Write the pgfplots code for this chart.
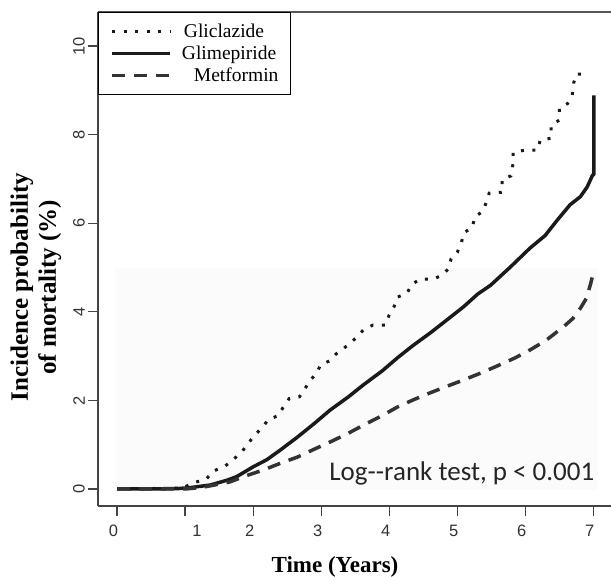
\documentclass[border=0pt]{standalone}
\usepackage{fontspec}
\setmainfont{Liberation Serif}
\newfontfamily\arialfont{Liberation Sans}
\newfontfamily\calfont{Carlito}
\usepackage{pgfplots}
\usepackage{pgfplotstable}
\pgfplotsset{compat=1.18}
\definecolor{axisgray}{HTML}{444444}
\definecolor{curveblack}{HTML}{1A1A1A}
\definecolor{dashgray}{HTML}{333333}

% cumulative incidence (%) by year
\pgfplotstableread{
t y
0 0
0.96 0.02
1.12 0.14
1.31 0.22
1.41 0.40
1.59 0.52
1.72 0.68
1.84 0.85
1.93 1.04
2.03 1.22
2.15 1.42
2.22 1.56
2.37 1.66
2.44 1.84
2.53 2.04
2.68 2.08
2.76 2.26
2.84 2.46
2.93 2.60
2.99 2.80
3.12 2.89
3.22 3.05
3.32 3.16
3.43 3.30
3.54 3.45
3.63 3.61
3.76 3.70
3.94 3.70
4.00 3.93
4.07 4.11
4.12 4.33
4.26 4.42
4.34 4.63
4.46 4.74
4.65 4.74
4.78 4.83
4.87 4.97
4.91 5.20
5.00 5.34
5.06 5.56
5.10 5.79
5.22 5.90
5.26 6.15
5.37 6.26
5.43 6.48
5.47 6.68
5.66 6.70
5.66 6.99
5.79 7.07
5.82 7.34
5.82 7.60
5.99 7.65
6.18 7.65
6.22 7.88
6.38 7.92
6.38 8.21
6.50 8.33
6.50 8.60
6.62 8.70
6.69 8.89
6.71 9.16
6.75 9.37
6.94 9.37
}\gliclazide

\pgfplotstableread{
t y
0 0
0.50 0
0.90 0.01
1.07 0.03
1.37 0.09
1.62 0.20
1.76 0.28
2.00 0.50
2.20 0.66
2.40 0.88
2.65 1.17
2.90 1.48
3.13 1.78
3.40 2.08
3.62 2.35
3.90 2.67
4.12 2.96
4.35 3.24
4.60 3.52
4.85 3.82
5.09 4.11
5.30 4.40
5.49 4.60
5.78 5.01
6.07 5.44
6.29 5.72
6.47 6.07
6.66 6.42
6.81 6.60
6.91 6.82
6.99 7.09
7.01 7.10
7.01 8.89
}\glimepiride

\pgfplotstableread{
t y
0 0
1.00 0
1.22 0.03
1.40 0.08
1.66 0.16
1.90 0.30
2.15 0.43
2.40 0.58
2.65 0.72
2.90 0.90
3.13 1.06
3.40 1.26
3.62 1.44
3.90 1.66
4.12 1.85
4.35 2.01
4.60 2.17
4.85 2.32
5.09 2.46
5.35 2.62
5.59 2.78
5.85 2.96
6.07 3.14
6.30 3.35
6.56 3.66
6.70 3.85
6.81 4.08
6.90 4.31
6.96 4.63
7.00 4.88
}\metformin

\begin{document}
\begin{tikzpicture}
\begin{axis}[
    scale only axis, width=513bp, height=494bp,
    xmin=-0.28, xmax=7.26, ymin=-0.384, ymax=10.77,
    axis x line*=bottom, axis y line*=left,
    axis line style={axisgray, line width=1.2bp, -},
    xtick={0,...,7}, ytick={0,2,...,10},
    xticklabels={0,{\hspace*{31bp}1},2,3,4,5,6,7},
    yticklabels={0,2,4,6,8,10},
    tick align=outside, major tick length=10bp,
    tick style={axisgray, line width=1.2bp},
    xticklabel style={font=\arialfont\fontsize{16.5bp}{16.5bp}\selectfont, text=black!80, inner sep=0pt, anchor=north, yshift=-9bp, xshift=-3.5bp},
    yticklabel style={font=\arialfont\fontsize{16.5bp}{16.5bp}\selectfont, text=black!80, inner sep=0pt, xshift=-3bp, rotate=90, anchor=south},
    xlabel={Time (Years)},
    xlabel style={at={(axis description cs:0.462,-0.1356)}, anchor=base, font=\bfseries\fontsize{23bp}{23bp}\selectfont},
    ylabel={Incidence probability\\of mortality (\%)},
    ylabel style={at={(axis description cs:-0.1209,0.443)}, anchor=center, align=center, font=\bfseries\fontsize{25bp}{28bp}\selectfont},
    clip=false,
    legend style={at={(rel axis cs:0,1)}, anchor=north west, draw=black, line width=1bp, fill=white,
        inner xsep=12bp, inner ysep=9bp, row sep=2bp, column sep=10bp,
        font=\fontsize{19.5bp}{22bp}\selectfont,
        nodes={inner sep=0pt, text height=16.5bp, text depth=3.5bp}},
    legend cell align=left,
    legend image code/.code={\path[draw=none, fill=none] (0bp,-10bp) -- (0bp,10bp); \draw[#1] (0bp,0bp) -- (58bp,0bp);},
]
\fill[black!1.5] (axis cs:-0.03,-0.02) rectangle (axis cs:7.07,4.99);
\addplot[curveblack, line width=3bp, dash pattern=on 3bp off 8.5bp, line cap=butt] table[x=t, y=y] {\gliclazide};
\addlegendentry{\hspace*{2bp}Gliclazide}
\addplot[curveblack, line width=3.5bp, line join=round] table[x=t, y=y] {\glimepiride};
\addlegendentry{Glimepiride}
\addplot[dashgray, line width=3.5bp, dash pattern=on 13bp off 9bp] table[x=t, y=y] {\metformin};
\addlegendentry{\hspace*{12bp}Metformin}
\draw[axisgray!90, line width=1.2bp] (rel axis cs:0,1) -- (rel axis cs:1,1);
\node[anchor=base west, inner sep=0pt, font=\calfont\fontsize{27bp}{27bp}\selectfont, text=black!85] at (axis cs:3.118,0.2) {Log-{}-rank test, p < 0.001};
\end{axis}
\pgfresetboundingbox
\path ([shift={(-98bp,-71bp)}]current axis.south west) rectangle ([shift={(513bp,506bp)}]current axis.south west);
\end{tikzpicture}
\end{document}
